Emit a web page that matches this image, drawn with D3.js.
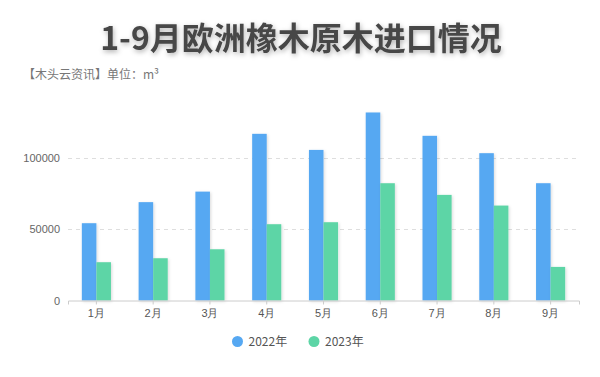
<!DOCTYPE html>
<html>
<head>
<meta charset="utf-8">
<script src="https://cdn.jsdelivr.net/npm/d3@7"></script>
<style>
  html, body { margin: 0; padding: 0; background: #fff; }
  svg { display: block; font-family: 'Noto Sans CJK SC', 'Noto Sans', sans-serif; }
</style>
</head>
<body>
<div id="chart"></div>
<script>
'use strict'

var months = ['1月', '2月', '3月', '4月', '5月', '6月', '7月', '8月', '9月']
var seriesNames = ['2022年', '2023年']
var values2022 = [54300, 69100, 76500, 117100, 105800, 132100, 115700, 103500, 82400]
var values2023 = [26900, 29700, 36000, 53600, 55000, 82400, 74200, 66700, 23600]
var yTicks = [0, 50000, 100000]
var colors = ['#56a8f2', '#5dd5a6']

var width = 600
var height = 377
var margin = { top: 87, right: 21, bottom: 76.5, left: 68 }
var innerW = width - margin.left - margin.right
var innerH = height - margin.top - margin.bottom

var svg = d3
  .select('#chart')
  .append('svg')
  .attr('width', width)
  .attr('height', height)

var defs = svg.append('defs')
var tf = defs.append('filter').attr('id', 'titleShadow')
  .attr('x', '-10%').attr('y', '-30%').attr('width', '120%').attr('height', '160%')
tf.append('feDropShadow')
  .attr('dx', 1).attr('dy', 2).attr('stdDeviation', 2.5)
  .attr('flood-color', '#000').attr('flood-opacity', 0.3)
var bf = defs.append('filter').attr('id', 'barShadow')
  .attr('x', '-30%').attr('y', '-10%').attr('width', '160%').attr('height', '120%')
bf.append('feDropShadow')
  .attr('dx', 1).attr('dy', 1).attr('stdDeviation', 1.5)
  .attr('flood-color', '#000').attr('flood-opacity', 0.15)

svg
  .append('text')
  .attr('x', 301)
  .attr('y', 50)
  .attr('text-anchor', 'middle')
  .attr('font-size', '32px')
  .attr('font-weight', 'bold')
  .attr('fill', '#464646')
  .attr('filter', 'url(#titleShadow)')
  .text('1-9月欧洲橡木原木进口情况')

svg
  .append('text')
  .attr('x', 23)
  .attr('y', 79)
  .attr('font-size', '12px')
  .attr('fill', '#777')
  .text('【木头云资讯】单位：m³')

var g = svg
  .append('g')
  .attr('transform', 'translate(' + margin.left + ',' + margin.top + ')')

var x = d3.scaleBand().domain(months).range([0, innerW])
var x1 = d3
  .scaleBand()
  .domain(seriesNames)
  .range([0, x.bandwidth()])
  .paddingOuter(0.95)
  .paddingInner(0)
var y = d3.scaleLinear().domain([0, 150000]).range([innerH, 0])

// grid
g.selectAll('.grid')
  .data(yTicks.filter(function(d) { return d > 0 }))
  .enter()
  .append('line')
  .attr('x1', 0)
  .attr('x2', innerW)
  .attr('y1', function(d) { return Math.round(y(d)) + 0.5 })
  .attr('y2', function(d) { return Math.round(y(d)) + 0.5 })
  .attr('stroke', '#dedede')
  .attr('stroke-dasharray', '4,4')

var yAxis = d3.axisLeft(y).tickValues(yTicks).tickSize(0).tickPadding(8).tickFormat(d3.format('d'))
g.append('g')
  .call(yAxis)
  .call(function(s) { s.select('.domain').remove() })
  .selectAll('text')
  .attr('font-size', '11px')
  .attr('fill', '#666')

var data = months.map(function(m, i) {
  return { month: m, vals: [values2022[i], values2023[i]] }
})

var groups = g
  .selectAll('.grp')
  .data(data)
  .enter()
  .append('g')
  .attr('transform', function(d) { return 'translate(' + x(d.month) + ',0)' })

groups
  .selectAll('rect')
  .data(function(d) {
    return d.vals.map(function(v, j) { return { name: seriesNames[j], v: v, j: j } })
  })
  .enter()
  .append('rect')
  .attr('x', function(d) { return x1(d.name) })
  .attr('width', x1.bandwidth())
  .attr('y', function(d) { return y(d.v) })
  .attr('height', function(d) { return innerH - y(d.v) })
  .attr('fill', function(d) { return colors[d.j] })
  .attr('filter', 'url(#barShadow)')

var xAxis = d3.axisBottom(x).tickSize(4).tickPadding(5)
var xg = g.append('g')
  .attr('transform', 'translate(0,' + innerH + ')')
  .call(xAxis)
xg.select('.domain').attr('stroke', '#ccc')
xg.selectAll('.tick line').attr('stroke', '#ccc')
xg.selectAll('text').attr('font-size', '11px').attr('fill', '#555')

// legend
var legend = svg
  .append('g')
  .selectAll('g')
  .data(seriesNames)
  .enter()
  .append('g')
  .attr('transform', function(d, i) { return 'translate(' + (237.5 + i * 76.5) + ',341.5)' })

legend.append('circle').attr('r', 5.5).attr('fill', function(d, i) { return colors[i] })
legend
  .append('text')
  .attr('x', 11)
  .attr('dy', '0.35em')
  .attr('font-size', '12px')
  .attr('fill', '#555')
  .text(function(d) { return d })
</script>
</body>
</html>
